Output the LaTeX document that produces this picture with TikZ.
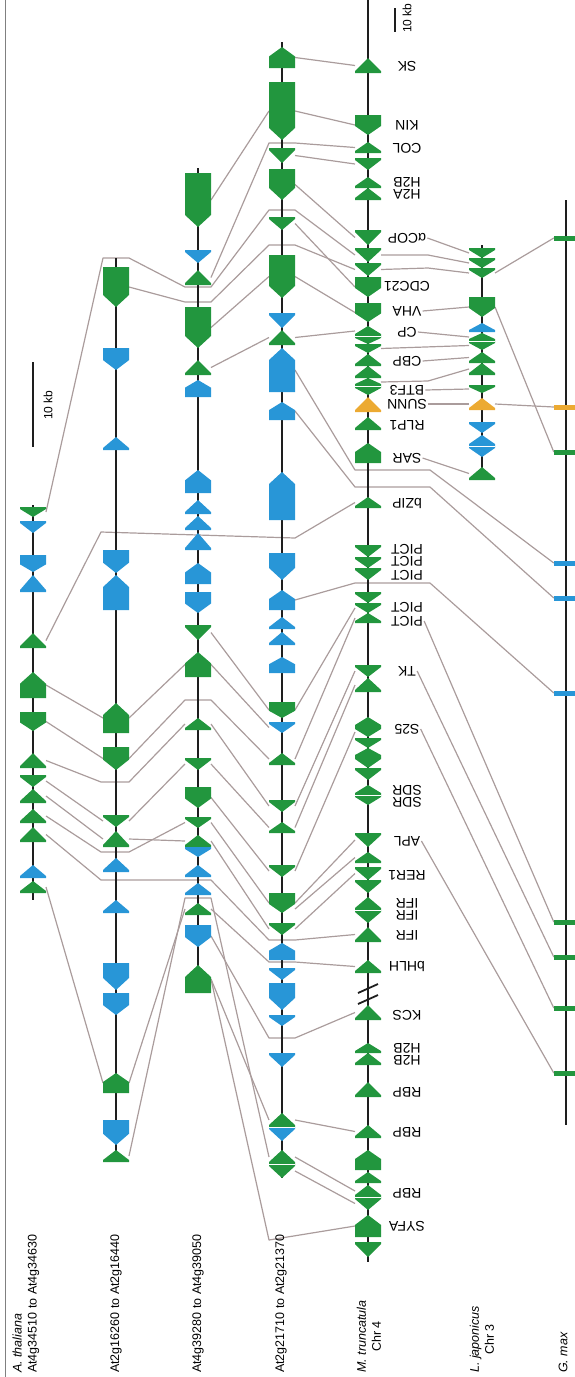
\documentclass[tikz,border=0pt]{standalone}
\usepackage{fontspec}
\setmainfont{Liberation Sans}
\usetikzlibrary{calc,backgrounds}
\definecolor{ggreen}{RGB}{34,150,62}
\definecolor{gblue}{RGB}{40,150,215}
\definecolor{gorange}{RGB}{236,170,50}
\definecolor{linkgray}{RGB}{170,156,156}
\definecolor{axisblack}{RGB}{30,30,30}
\tikzset{
	gene/.style={minimum width=26pt, inner sep=0pt, outer sep=0pt},
	hu/.style={gene, path picture={\fill[#1] let \p1=(path picture bounding box.south west), \p2=(path picture bounding box.north east), \n1={min(12pt,0.45*(\y2-\y1))} in (\x1,\y1) -- (\x2,\y1) -- (\x2,\y2-\n1) -- ({(\x1+\x2)/2},\y2) -- (\x1,\y2-\n1) -- cycle;}},
	hd/.style={gene, path picture={\fill[#1] let \p1=(path picture bounding box.south west), \p2=(path picture bounding box.north east), \n1={min(12pt,0.45*(\y2-\y1))} in (\x1,\y2) -- (\x2,\y2) -- (\x2,\y1+\n1) -- ({(\x1+\x2)/2},\y1) -- (\x1,\y1+\n1) -- cycle;}},
	tu/.style={gene, path picture={\fill[#1] let \p1=(path picture bounding box.south west), \p2=(path picture bounding box.north east) in (\x1,\y1) -- (\x2,\y1) -- (\x2,\y1+2pt) -- ({(\x1+\x2)/2},\y2) -- (\x1,\y1+2pt) -- cycle;}},
	td/.style={gene, path picture={\fill[#1] let \p1=(path picture bounding box.south west), \p2=(path picture bounding box.north east) in (\x1,\y2) -- (\x2,\y2) -- (\x2,\y2-2pt) -- ({(\x1+\x2)/2},\y1) -- (\x1,\y2-2pt) -- cycle;}},
	tick/.style={fill=#1, minimum width=24pt, minimum height=5pt, inner sep=0pt},
	axis/.style={axisblack, line width=2.2pt},
	link/.style={linkgray, line width=1.2pt, line join=round},
	split/.style={white, line width=0.8pt},
	glab/.style={font=\fontsize{14}{14}\selectfont, rotate=180, inner sep=1pt},
	ctitle/.style={font=\fontsize{12.5}{15}\selectfont, rotate=90, anchor=west, inner sep=0pt},
}
% gene glyph: style, name, x, top, bottom, colour
\newcommand{\gn}[6]{\node[#1=#6, minimum height={(#5-#4)*1pt}] (#2) at (#3,{(#4+#5)/2}) {};}
\begin{document}
\begin{tikzpicture}[x=1pt, y=-1pt]
	\useasboundingbox (0,0) rectangle (574,1377);
	\draw[gray, line width=0.8pt] (5,0) -- (5,1377);

	% chromosome axes
	\draw[axis] (33,505) -- (33,900);
	\draw[axis] (116,258) -- (116,1162);
	\draw[axis] (198,168) -- (198,980);
	\draw[axis] (282,42) -- (282,1178);
	\draw[axis] (368,0) -- (368,1262);
	\draw[axis] (482,245) -- (482,480);
	\draw[axis] (566,200) -- (566,1125);

	% A. thaliana At4g34510 to At4g34630
	\gn{td}{a1}{33}{507}{517}{ggreen}
	\gn{td}{a2}{33}{521}{533}{gblue}
	\gn{hd}{a3}{33}{555}{572}{gblue}
	\gn{tu}{a4}{33}{575}{592}{gblue}
	\gn{tu}{a5}{33}{633}{648}{ggreen}
	\gn{hu}{a6}{33}{672}{698}{ggreen}
	\gn{hd}{a7}{33}{712}{731}{ggreen}
	\gn{tu}{a8}{33}{753}{768}{ggreen}
	\gn{td}{a9}{33}{775}{787}{ggreen}
	\gn{tu}{a10}{33}{789}{803}{ggreen}
	\gn{tu}{a11}{33}{809}{823}{ggreen}
	\gn{tu}{a12}{33}{827}{842}{ggreen}
	\gn{tu}{a13}{33}{865}{878}{gblue}
	\gn{tu}{a14}{33}{881}{893}{ggreen}

	% At2g16260 to At2g16440
	\gn{hd}{b1}{116}{267}{307}{ggreen}
	\gn{hd}{b2}{116}{348}{370}{gblue}
	\gn{tu}{b3}{116}{437}{450}{gblue}
	\gn{hd}{b4}{116}{550}{573}{gblue}
	\gn{hu}{b5}{116}{575}{610}{gblue}
	\gn{hu}{b6}{116}{703}{733}{ggreen}
	\gn{hd}{b7}{116}{747}{770}{ggreen}
	\gn{td}{b8}{116}{815}{827}{ggreen}
	\gn{tu}{b9}{116}{831}{847}{ggreen}
	\gn{tu}{b10}{116}{858}{872}{gblue}
	\gn{tu}{b11}{116}{900}{913}{gblue}
	\gn{hd}{b12}{116}{963}{990}{gblue}
	\gn{hd}{b13}{116}{993}{1015}{gblue}
	\gn{hu}{b14}{116}{1073}{1093}{ggreen}
	\gn{hd}{b15}{116}{1120}{1145}{gblue}
	\gn{tu}{b16}{116}{1150}{1162}{ggreen}

	% At4g39280 to At4g39050
	\gn{hd}{c1}{198}{173}{227}{ggreen}
	\gn{td}{c2}{198}{250}{263}{gblue}
	\gn{tu}{c3}{198}{270}{285}{ggreen}
	\gn{hd}{c4}{198}{307}{348}{ggreen}
	\gn{tu}{c5}{198}{360}{375}{ggreen}
	\gn{hu}{c6}{198}{380}{397}{gblue}
	\gn{hu}{c7}{198}{470}{493}{gblue}
	\gn{tu}{c8}{198}{500}{514}{gblue}
	\gn{tu}{c9}{198}{516}{530}{gblue}
	\gn{tu}{c10}{198}{533}{550}{gblue}
	\gn{hu}{c11}{198}{563}{584}{gblue}
	\gn{hd}{c12}{198}{592}{613}{gblue}
	\gn{td}{c13}{198}{625}{640}{ggreen}
	\gn{hu}{c14}{198}{652}{677}{ggreen}
	\gn{tu}{c15}{198}{718}{730}{ggreen}
	\gn{td}{c16}{198}{758}{770}{ggreen}
	\gn{hd}{c17}{198}{787}{808}{ggreen}
	\gn{td}{c18}{198}{817}{828}{ggreen}
	\gn{tu}{c19}{198}{835}{847}{ggreen}
	\gn{td}{c20}{198}{847}{857}{gblue}
	\gn{tu}{c21}{198}{865}{877}{gblue}
	\gn{tu}{c22}{198}{883}{895}{gblue}
	\gn{tu}{c23}{198}{903}{915}{ggreen}
	\gn{hd}{c24}{198}{925}{947}{gblue}
	\gn{hu}{c25}{198}{965}{993}{ggreen}

	% At2g21710 to At2g21370
	\gn{hu}{d1}{282}{47}{68}{ggreen}
	\gn{hd}{d2}{282}{82}{140}{ggreen}
	\gn{td}{d3}{282}{148}{163}{ggreen}
	\gn{hd}{d4}{282}{169}{200}{ggreen}
	\gn{td}{d5}{282}{217}{230}{ggreen}
	\gn{hd}{d6}{282}{255}{298}{ggreen}
	\gn{td}{d7}{282}{313}{328}{gblue}
	\gn{tu}{d8}{282}{330}{345}{ggreen}
	\gn{hu}{d9}{282}{348}{392}{gblue}
	\gn{hu}{d10}{282}{402}{420}{gblue}
	\gn{hu}{d11}{282}{472}{520}{gblue}
	\gn{hd}{d12}{282}{553}{580}{gblue}
	\gn{hu}{d13}{282}{590}{610}{gblue}
	\gn{tu}{d14}{282}{617}{629}{gblue}
	\gn{tu}{d15}{282}{632}{645}{gblue}
	\gn{hu}{d16}{282}{657}{673}{gblue}
	\gn{hd}{d17}{282}{702}{718}{ggreen}
	\gn{td}{d18}{282}{722}{733}{gblue}
	\gn{tu}{d19}{282}{753}{765}{ggreen}
	\gn{td}{d20}{282}{800}{812}{ggreen}
	\gn{tu}{d21}{282}{822}{833}{ggreen}
	\gn{td}{d22}{282}{865}{877}{ggreen}
	\gn{hd}{d23}{282}{893}{913}{ggreen}
	\gn{td}{d24}{282}{923}{935}{ggreen}
	\gn{hu}{d25}{282}{943}{960}{gblue}
	\gn{td}{d26}{282}{968}{980}{gblue}
	\gn{hd}{d27}{282}{983}{1010}{gblue}
	\gn{td}{d28}{282}{1015}{1026}{gblue}
	\gn{td}{d29}{282}{1053}{1067}{gblue}
	\gn{tu}{d30}{282}{1113}{1127}{ggreen}
	\gn{td}{d31}{282}{1127}{1141}{gblue}
	\gn{tu}{d32}{282}{1150}{1164}{ggreen}
	\gn{td}{d33}{282}{1164}{1178}{ggreen}
	\draw[split] (d30.south west) -- (d30.south east);
	\draw[split] (d32.south west) -- (d32.south east);

	% M. truncatula Chr 4
	\gn{tu}{mSK}{368}{58}{73}{ggreen}
	\gn{hd}{mKIN}{368}{115}{135}{ggreen}
	\gn{tu}{mCOL}{368}{142}{153}{ggreen}
	\gn{td}{mD1}{368}{158}{170}{ggreen}
	\gn{tu}{mHB}{368}{177}{188}{ggreen}
	\gn{tu}{mHA}{368}{188}{200}{ggreen}
	\gn{td}{mCOP}{368}{230}{245}{ggreen}
	\gn{td}{mD2}{368}{248}{262}{ggreen}
	\gn{td}{mD3}{368}{263}{276}{ggreen}
	\gn{hd}{mCDC}{368}{277}{297}{ggreen}
	\gn{hd}{mVHA}{368}{303}{322}{ggreen}
	\gn{tu}{mCP}{368}{326}{336}{ggreen}
	\gn{td}{mCPb}{368}{336}{344}{ggreen}
	\gn{td}{mD4}{368}{344}{353}{ggreen}
	\gn{tu}{mCBP}{368}{354}{366}{ggreen}
	\gn{tu}{mCBPb}{368}{366}{378}{ggreen}
	\gn{tu}{mBTF}{368}{378}{386}{ggreen}
	\gn{td}{mBTFb}{368}{386}{395}{ggreen}
	\gn{tu}{mSUNN}{368}{397}{412}{gorange}
	\gn{tu}{mRLP}{368}{417}{430}{ggreen}
	\gn{hu}{mSAR}{368}{443}{463}{ggreen}
	\gn{tu}{mBZIP}{368}{497}{508}{ggreen}
	\gn{td}{mPA}{368}{545}{557}{ggreen}
	\gn{td}{mPB}{368}{557}{568}{ggreen}
	\gn{td}{mPC}{368}{568}{580}{ggreen}
	\gn{td}{mD5}{368}{592}{603}{ggreen}
	\gn{td}{mPD}{368}{603}{613}{ggreen}
	\gn{tu}{mPE}{368}{613}{623}{ggreen}
	\gn{td}{mTK}{368}{665}{677}{ggreen}
	\gn{tu}{mD6}{368}{678}{692}{ggreen}
	\gn{tu}{mS1}{368}{717}{727}{ggreen}
	\gn{td}{mS2}{368}{727}{737}{ggreen}
	\gn{td}{mS3}{368}{738}{748}{ggreen}
	\gn{tu}{mS4}{368}{748}{757}{ggreen}
	\gn{td}{mS5}{368}{757}{768}{ggreen}
	\gn{td}{mS6}{368}{768}{780}{ggreen}
	\gn{tu}{mSDR}{368}{785}{795}{ggreen}
	\gn{td}{mSDRb}{368}{795}{805}{ggreen}
	\gn{td}{mAPL}{368}{833}{847}{ggreen}
	\gn{tu}{mD7}{368}{852}{863}{ggreen}
	\gn{td}{mRER}{368}{867}{880}{ggreen}
	\gn{td}{mD8}{368}{880}{893}{ggreen}
	\gn{tu}{mIFR}{368}{897}{910}{ggreen}
	\gn{td}{mIFRb}{368}{910}{923}{ggreen}
	\gn{tu}{mIFRc}{368}{927}{942}{ggreen}
	\gn{tu}{mBHLH}{368}{960}{973}{ggreen}
	\gn{tu}{mKCS}{368}{1005}{1020}{ggreen}
	\gn{tu}{mHC}{368}{1043}{1053}{ggreen}
	\gn{tu}{mHD}{368}{1053}{1065}{ggreen}
	\gn{tu}{mRBP}{368}{1082}{1097}{ggreen}
	\gn{tu}{mRBPb}{368}{1125}{1138}{ggreen}
	\gn{hu}{mD9}{368}{1150}{1170}{ggreen}
	\gn{tu}{mD10}{368}{1172}{1183}{ggreen}
	\gn{tu}{mRBPc}{368}{1185}{1197}{ggreen}
	\gn{td}{mRBPd}{368}{1197}{1210}{ggreen}
	\gn{hu}{mSYFA}{368}{1215}{1237}{ggreen}
	\gn{td}{mD11}{368}{1242}{1257}{ggreen}
	\draw[split] (mCP.south west) -- (mCP.south east);
	\draw[split] (mBTF.south west) -- (mBTF.south east);
	\draw[split] (mSDR.south west) -- (mSDR.south east);
	\draw[split] (mIFR.south west) -- (mIFR.south east);
	\draw[split] (mRBPc.south west) -- (mRBPc.south east);
	\draw[axisblack, line width=1.8pt] (358,993) -- (378,984);
	\draw[axisblack, line width=1.8pt] (358,1004) -- (378,995);

	% L. japonicus Chr 3
	\gn{td}{l1}{482}{248}{258}{ggreen}
	\gn{td}{l2}{482}{258}{268}{ggreen}
	\gn{td}{l3}{482}{268}{278}{ggreen}
	\gn{hd}{l4}{482}{297}{317}{ggreen}
	\gn{tu}{l5}{482}{323}{332}{gblue}
	\gn{tu}{l6}{482}{333}{341}{ggreen}
	\gn{td}{l6b}{482}{341}{350}{ggreen}
	\gn{tu}{l7}{482}{352}{363}{ggreen}
	\gn{tu}{l8}{482}{363}{375}{ggreen}
	\gn{td}{l9}{482}{385}{393}{ggreen}
	\gn{tu}{l10}{482}{398}{410}{gorange}
	\gn{td}{l11}{482}{422}{433}{gblue}
	\gn{tu}{l12}{482}{435}{446}{gblue}
	\gn{td}{l12b}{482}{446}{457}{gblue}
	\gn{tu}{l13}{482}{467}{480}{ggreen}
	\draw[split] (l6.south west) -- (l6.south east);
	\draw[split] (l12.south west) -- (l12.south east);

	% G. max
	\node[tick=ggreen] (g1) at (566,238) {};
	\node[tick=gorange] (g2) at (566,407) {};
	\node[tick=ggreen] (g3) at (566,452) {};
	\node[tick=gblue] (g4) at (566,563) {};
	\node[tick=gblue] (g5) at (566,598) {};
	\node[tick=gblue] (g6) at (566,693) {};
	\node[tick=ggreen] (g7) at (566,922) {};
	\node[tick=ggreen] (g8) at (566,957) {};
	\node[tick=ggreen] (g9) at (566,1008) {};
	\node[tick=ggreen] (g10) at (566,1073) {};

	% gene names
	\node[glab] (tSK) at (407,66) {SK};
	\node[glab] (tKIN) at (407,125) {KIN};
	\node[glab] (tCOL) at (407,148) {COL};
	\node[glab] (tHB) at (407,182) {H2B};
	\node[glab] (tHA) at (407,194) {H2A};
	\node[glab] (tCOP) at (407,238) {αCOP};
	\node[glab] (tCDC) at (407,286) {CDC21};
	\node[glab] (tVHA) at (407,311) {VHA};
	\node[glab] (tCP) at (407,332) {CP};
	\node[glab] (tCBP) at (407,361) {CBP};
	\node[glab] (tBTF) at (407,390) {BTF3};
	\node[glab] (tSUNN) at (407,404) {SUNN};
	\node[glab] (tRLP) at (407,425) {RLP1};
	\node[glab] (tSAR) at (407,458) {SAR};
	\node[glab] (tBZIP) at (407,503) {bZIP};
	\node[glab] (tPA) at (407,549) {PICT};
	\node[glab] (tPB) at (407,561) {PICT};
	\node[glab] (tPC) at (407,575) {PICT};
	\node[glab] (tPD) at (407,607) {PICT};
	\node[glab] (tPE) at (407,621) {PICT};
	\node[glab] (tTK) at (407,671) {TK};
	\node[glab] (tS25) at (407,729) {S25};
	\node[glab] (tSDR) at (407,790) {SDR};
	\node[glab] (tSDRb) at (407,802) {SDR};
	\node[glab] (tAPL) at (407,841) {APL};
	\node[glab] (tRER) at (407,875) {RER1};
	\node[glab] (tIFR) at (407,903) {IFR};
	\node[glab] (tIFRb) at (407,915) {IFR};
	\node[glab] (tIFRc) at (407,935) {IFR};
	\node[glab] (tBHLH) at (407,966) {bHLH};
	\node[glab] (tKCS) at (407,1015) {KCS};
	\node[glab] (tHC) at (407,1048) {H2B};
	\node[glab] (tHD) at (407,1060) {H2B};
	\node[glab] (tRBP) at (407,1092) {RBP};
	\node[glab] (tRBPb) at (407,1132) {RBP};
	\node[glab] (tRBPc) at (407,1193) {RBP};
	\node[glab] (tSYFA) at (407,1226) {SYFA};

	% scale bars
	\draw[axis] (33,362) -- (33,447);
	\node[ctitle, anchor=center, font=\fontsize{12}{12}\selectfont] (kb1) at (48,405) {10 kb};
	\draw[axis] (395,8) -- (395,32);
	\node[ctitle, anchor=center, font=\fontsize{12}{12}\selectfont] (kb2) at (407,18) {10 kb};

	% column titles
	\node[ctitle, align=left] (tAth) at (26,1373) {\textit{A. thaliana}\\At4g34510 to At4g34630};
	\node[ctitle] (tAtb) at (116,1373) {At2g16260 to At2g16440};
	\node[ctitle] (tAtc) at (198,1373) {At4g39280 to At4g39050};
	\node[ctitle] (tAtd) at (281,1373) {At2g21710 to At2g21370};
	\node[ctitle, align=center] (tMt) at (369,1373) {\textit{M. truncatula}\\Chr 4};
	\node[ctitle, align=center] (tLj) at (482,1373) {\textit{L. japonicus}\\Chr 3};
	\node[ctitle] (tGm) at (563,1373) {\textit{G. max}};

	% homology links, behind the chromosomes
	\begin{scope}[on background layer]
	\draw[link] (a1.east) -- (103,258) -- (129,258) -- (185,287) -- (211,287) -- (269,210) -- (295,210) -- (mD2.west);
	\draw[link] (b1.east) -- (185,302) -- (211,302) -- (269,245) -- (295,245) -- (mD3.west);
	\draw[link] (a5.east) -- (101,532) -- (295,538) -- (mBZIP.west);
	\draw[link] (a6.east) -- (b6.west);
	\draw[link] (a7.east) -- (b7.west);
	\draw[link] (a8.east) -- (101,782) -- (129,782) -- (c15.west);
	\draw[link] (a9.east) -- (b8.west);
	\draw[link] (a10.east) -- (b9.west);
	\draw[link] (a11.east) -- (101,852) -- (129,852) -- (c18.west);
	\draw[link] (a12.east) -- (101,880) -- (211,880) -- (269,940) -- (295,940) -- (mIFRc.west);
	\draw[link] (a14.east) -- (b14.west);
	\draw[link] (b6.east) -- (c14.west);
	\draw[link] (b7.east) -- (185,700) -- (211,700) -- (d19.west);
	\draw[link] (b8.east) -- (c16.west);
	\draw[link] (b9.east) -- (c19.west);
	\draw[link] (b14.east) -- (c23.west);
	\draw[link] (b16.east) -- (185,898) -- (211,898) -- (d32.west);
	\draw[link] (c1.east) -- (d2.west);
	\draw[link] (c3.east) -- (269,143) -- (295,143) -- (mCOL.west);
	\draw[link] (c4.east) -- (d6.west);
	\draw[link] (c5.east) -- (d8.west);
	\draw[link] (c13.east) -- (d17.west);
	\draw[link] (c14.east) -- (d18.west);
	\draw[link] (c15.east) -- (d20.west);
	\draw[link] (c16.east) -- (d21.west);
	\draw[link] (c17.east) -- (d22.west);
	\draw[link] (c18.east) -- (d23.west);
	\draw[link] (c19.east) -- (d24.west);
	\draw[link] (c23.east) -- (269,962) -- (295,962) -- (mBHLH.west);
	\draw[link] (c24.east) -- (269,1038) -- (295,1038) -- (mKCS.west);
	\draw[link] (c25.east) -- (d30.west);
	\draw[link] (c25.east) -- (269,1240) -- (mSYFA.west);
	\draw[link] (d1.east) -- (mSK.west);
	\draw[link] (d2.east) -- (mKIN.west);
	\draw[link] (d3.east) -- (mD1.west);
	\draw[link] (d4.east) -- (mCOP.west);
	\draw[link] (d5.east) -- (mCDC.west);
	\draw[link] (d6.east) -- (mVHA.west);
	\draw[link] (d8.east) -- (mCP.west);
	\draw[link] (d9.east) -- (355,470) -- (430,470) -- (g4.west);
	\draw[link] (d10.east) -- (355,487) -- (430,487) -- (g5.west);
	\draw[link] (d13.east) -- (355,583) -- (430,583) -- (g6.west);
	\draw[link] (d17.east) -- (mPD.west);
	\draw[link] (d19.east) -- (mPE.west);
	\draw[link] (d20.east) -- (mTK.west);
	\draw[link] (d21.east) -- (mD6.west);
	\draw[link] (d22.east) -- (mS2.west);
	\draw[link] (d23.east) -- (mAPL.west);
	\draw[link] ([yshift=-6pt]d23.east) -- (mD7.west);
	\draw[link] (d24.east) -- (mRER.west);
	\draw[link] (d30.east) -- (mRBPb.west);
	\draw[link] (d32.east) -- (mRBPc.west);
	\draw[link] (d33.east) -- (mRBPd.west);
	\draw[link] (tCOP.west) -- (l1.west);
	\draw[link] (mD2.east) -- (428,255) -- (l2.west);
	\draw[link] (mD3.east) -- (428,268) -- (l3.west);
	\draw[link] (tVHA.west) -- (l4.west);
	\draw[link] (tCP.west) -- (l6.west);
	\draw[link] (mD4.east) -- (l6b.west);
	\draw[link] (tCBP.west) -- (l7.west);
	\draw[link] (mBTF.east) -- (428,381) -- (l8.west);
	\draw[link] (tBTF.west) -- (l9.west);
	\draw[link] (tSUNN.west) -- (l10.west);
	\draw[link] (tSAR.west) -- (l13.west);
	\draw[link] (l3.east) -- (g1.west);
	\draw[link] (l10.east) -- (g2.west);
	\draw[link] (l4.east) -- (g3.west);
	\draw[link] (tPE.west) -- (g7.west);
	\draw[link] (tTK.west) -- (g8.west);
	\draw[link] (tS25.west) -- (g9.west);
	\draw[link] (tAPL.west) -- (g10.west);
	\end{scope}
\end{tikzpicture}
\end{document}
